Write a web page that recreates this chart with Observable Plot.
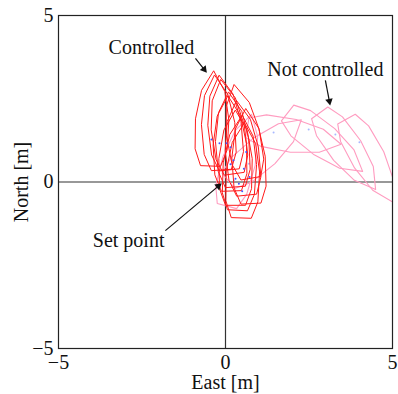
<!DOCTYPE html>
<html>
<head>
<meta charset="utf-8">
<script src="https://cdn.jsdelivr.net/npm/d3@7"></script>
<script src="https://cdn.jsdelivr.net/npm/@observablehq/plot@0.6"></script>
<style>
  html, body { margin: 0; padding: 0; background: #fff; }
  svg { display: block; }
</style>
</head>
<body>
<div id="chart"></div>
<script>
// ---- Data ----
// Ship reference points (blue dots) and headings (deg, clockwise from north)
const redX = [-0.42, -0.18, 0.03, 0.15, 0.24, 0.15, 0.55, 0.30, 0.40, 0.50, 0.62, 0.72];
const redY = [1.28, 1.16, 1.16, 1.04, 0.65, 0.53, 0.40, 0.10, -0.05, -0.28, 0.90, 0.15];
const redHeading = [2, -4, -6, -8, -4, -2, -6, 0, 3, 2, -10, -3];

const pinkX = [0.25, 0.70, 1.44, 2.49, 3.29, 4.01];
const pinkY = [0.05, 0.55, 1.49, 1.58, 1.43, 1.19];
const pinkHeading = [15, 50, 100, 128, 144, 151];

// Hull outline in the ship frame (forward, starboard), metres
const hullF = [2.05, 1.45, 0.6, -0.3, -0.8, -0.8, -0.3, 0.6, 1.45];
const hullS = [0, 0.35, 0.5, 0.48, 0.3, -0.3, -0.48, -0.5, -0.35];

// Annotations
const labels = ["Controlled", "Not controlled", "Set point"];
const labelX = [-2.22, 2.99, -2.9];
const labelY = [3.83, 3.18, -1.95];
const arrowX1 = [-0.90, 2.99, -1.80];
const arrowY1 = [3.71, 3.05, -1.46];
const arrowX2 = [-0.54, 3.14, -0.09];
const arrowY2 = [3.26, 2.27, -0.02];

const axisTicks = [-5, 0, 5];
const xLabel = "East [m]";
const yLabel = "North [m]";

// ---- Build tables ----
function hullRows(xs, ys, hs, group) {
  const rows = [];
  xs.forEach((x0, i) => {
    const t = hs[i] * Math.PI / 180;
    const fx = Math.sin(t), fy = Math.cos(t);
    const sx = Math.cos(t), sy = -Math.sin(t);
    hullF.forEach((f, j) => {
      const s = hullS[j];
      rows.push({id: group + i, x: x0 + f * fx + s * sx, y: ys[i] + f * fy + s * sy});
    });
  });
  return rows;
}
const redRows = hullRows(redX, redY, redHeading, "r");
const pinkRows = hullRows(pinkX, pinkY, pinkHeading, "p");
const redDots = redX.map((x, i) => ({x, y: redY[i]}));
const pinkDots = pinkX.map((x, i) => ({x, y: pinkY[i]}));
const notes = labels.map((t, i) => ({t, x: labelX[i], y: labelY[i]}));
// arrow shaft ends at the centre of a filled triangular head placed at the tip
const headBack = 0.16;
const arrows = arrowX1.map((x1, i) => {
  const dx = arrowX2[i] - x1, dy = arrowY2[i] - arrowY1[i];
  const L = Math.hypot(dx, dy);
  return {
    x1, y1: arrowY1[i],
    cx: arrowX2[i] - dx / L * headBack,
    cy: arrowY2[i] - dy / L * headBack,
    angle: Math.atan2(dx, dy) * 180 / Math.PI
  };
});

const chart = Plot.plot({
  width: 398,
  height: 394,
  marginLeft: 58,
  marginRight: 6,
  marginTop: 15,
  marginBottom: 46,
  style: {fontFamily: "'Liberation Serif', 'DejaVu Serif', serif", fontSize: "20px", background: "#fff", color: "#111"},
  x: {domain: [-5, 5]},
  y: {domain: [-5, 5]},
  marks: [
    Plot.ruleX([0], {stroke: "#333", strokeWidth: 1.2}),
    Plot.ruleY([0], {stroke: "#333", strokeWidth: 1.2}),
    Plot.line(pinkRows, {x: "x", y: "y", z: "id", curve: "linear-closed", stroke: "#ff9cc0", strokeWidth: 1.1, clip: true}),
    Plot.dot(pinkDots, {x: "x", y: "y", r: 1, fill: "#a8b8ff", stroke: null}),
    Plot.line(redRows, {x: "x", y: "y", z: "id", curve: "linear-closed", stroke: "#ff1a1a", strokeWidth: 1, clip: true}),
    Plot.dot(redDots, {x: "x", y: "y", r: 1, fill: "#4455ff", stroke: null}),
    Plot.frame({stroke: "#222", strokeWidth: 1.2}),
    Plot.axisX({ticks: axisTicks, tickSize: 0, tickPadding: 6, label: null, fontSize: 20}),
    Plot.axisY({ticks: axisTicks, tickSize: 0, tickPadding: 5, label: null, fontSize: 20}),
    Plot.text([xLabel], {frameAnchor: "bottom", text: d => d, dy: 40, lineAnchor: "bottom", fontSize: 20}),
    Plot.text([yLabel], {frameAnchor: "left", text: d => d, dx: -31, rotate: -90, lineAnchor: "bottom", textAnchor: "middle", fontSize: 20}),
    Plot.text(notes, {x: "x", y: "y", text: "t", lineAnchor: "bottom", textAnchor: "middle", fontSize: 20, fill: "#111"}),
    Plot.link(arrows, {x1: "x1", y1: "y1", x2: "cx", y2: "cy", stroke: "#111", strokeWidth: 1.2}),
    Plot.dot(arrows, {x: "cx", y: "cy", symbol: "triangle2", rotate: "angle", r: 3.6, fill: "#111", stroke: null})
  ]
});
document.getElementById("chart").appendChild(chart);
</script>
</body>
</html>
